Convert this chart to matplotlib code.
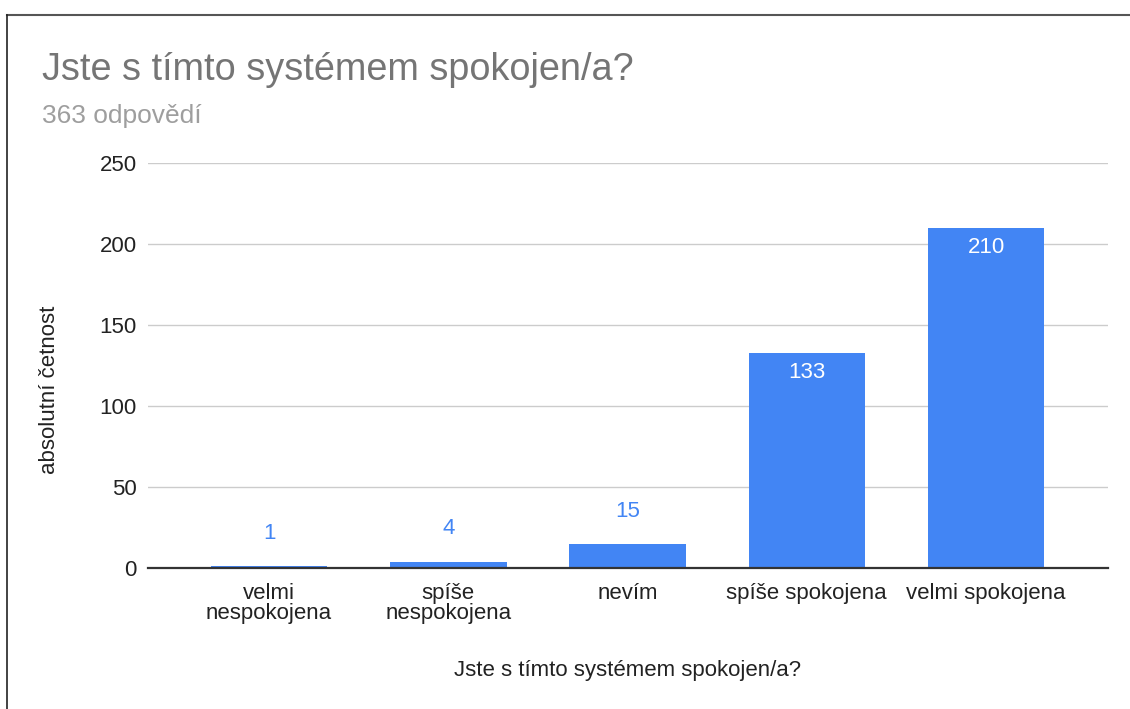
import matplotlib.pyplot as plt
from matplotlib.lines import Line2D

categories = ["velmi\nnespokojena", "spíše\nnespokojena", "nevím",
              "spíše spokojena", "velmi spokojena"]
counts = [1, 4, 15, 133, 210]
yticks = [0, 50, 100, 150, 200, 250]

plt.rcParams['font.family'] = ['Liberation Sans', 'DejaVu Sans']

fig = plt.figure(figsize=(11.3, 7.09), dpi=100)
ax = fig.add_axes([0.131, 0.1989, 0.8495, 0.5712])

x = list(range(len(categories)))
bars = ax.bar(x, counts, width=0.65, color="#4285F4", zorder=3)

fs = 16
ax.set_ylim(0, 250)
ax.set_xlim(-0.675, 4.68)
ax.set_yticks(yticks)
ax.set_xticks(x)
ax.set_xticklabels(categories, fontsize=fs, color="#222222", linespacing=0.92)
ax.tick_params(axis='y', labelsize=fs, labelcolor="#222222", length=0, pad=8)
ax.tick_params(axis='x', length=0, pad=11)
ax.grid(axis='y', color="#cccccc", linewidth=1, zorder=0)
for s in ["top", "right", "left"]:
    ax.spines[s].set_visible(False)
ax.spines["bottom"].set_color("#333333")
ax.spines["bottom"].set_linewidth(1.6)
ax.spines["bottom"].set_zorder(4)

# value labels: inside for tall bars, above for short ones
for xi, v in zip(x, counts):
    if v > 50:
        ax.annotate(str(v), (xi, v), xytext=(0, -14.5), textcoords="offset points",
                    ha="center", va="center", color="white", fontsize=fs)
    else:
        ax.annotate(str(v), (xi, v), xytext=(0, 23.5), textcoords="offset points",
                    ha="center", va="center", color="#4285F4", fontsize=fs)

ax.set_ylabel("absolutní četnost", fontsize=fs, color="#222222")
ax.yaxis.set_label_coords(-0.092, 0.44)
ax.set_xlabel("Jste s tímto systémem spokojen/a?", fontsize=fs, color="#222222")
ax.xaxis.set_label_coords(0.5, -0.228)

fig.text(42 / 1130, 1 - 70 / 709, "Jste s tímto systémem spokojen/a?",
         fontsize=27.3, color="#757575", va="center", ha="left")
fig.text(42 / 1130, 1 - 116 / 709, "363 odpovědí",
         fontsize=19, color="#9e9e9e", va="center", ha="left")

# screenshot frame
fig.add_artist(Line2D([7 / 1130, 1], [1 - 15 / 709, 1 - 15 / 709],
                      transform=fig.transFigure, color="#555555", linewidth=1.5))
fig.add_artist(Line2D([7 / 1130, 7 / 1130], [0, 1 - 15 / 709],
                      transform=fig.transFigure, color="#222222", linewidth=1.2))

fig.savefig("out.png", dpi=100)
